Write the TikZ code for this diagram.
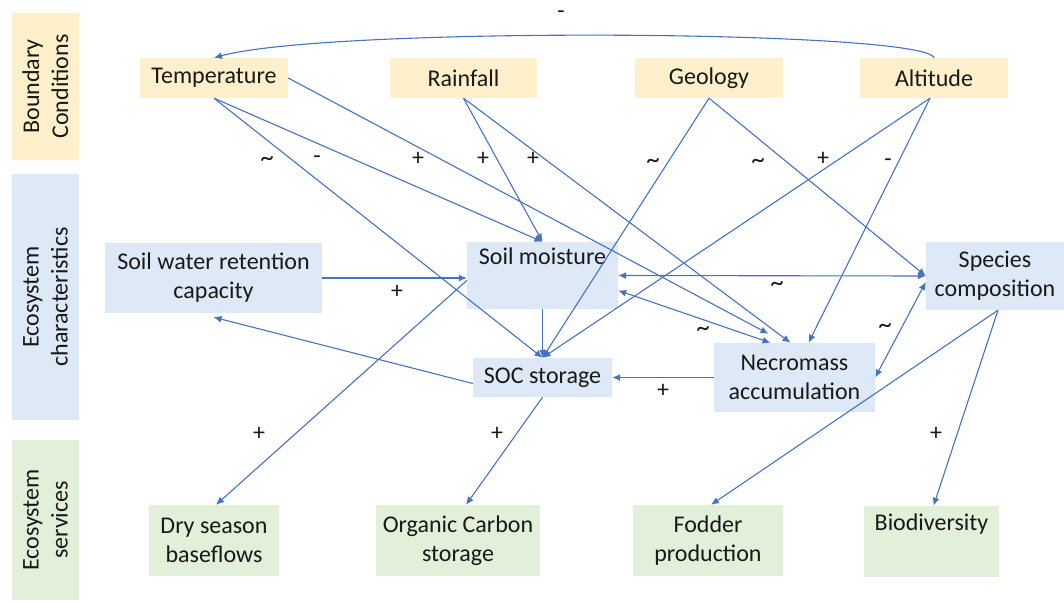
\documentclass[tikz,border=0pt]{standalone}
\usepackage{fontspec}
\setmainfont{Carlito}
\usetikzlibrary{arrows.meta,calc}
\definecolor{bcY}{HTML}{FDF0CB}
\definecolor{ecB}{HTML}{DDE9F6}
\definecolor{esG}{HTML}{E2EFD9}
\definecolor{lineB}{HTML}{4472C4}
\tikzset{
  box/.style={rectangle, inner sep=0pt, align=center, font=\fontsize{24}{29}\selectfont, text=black!90},
  ybox/.style={box, fill=bcY},
  bbox/.style={box, fill=ecB},
  gbox/.style={box, fill=esG},
  side/.style={box, rotate=90, minimum height=67pt},
  edge/.style={draw=lineB, line width=1.1pt, -{Latex[length=8pt,width=7pt]}},
  twoway/.style={draw=lineB, line width=1.1pt, {Latex[length=8pt,width=7pt]}-{Latex[length=8pt,width=7pt]}},
  lab/.style={font=\fontsize{24}{24}\selectfont, text=black!90, inner sep=0pt}
}
\newcommand{\tld}{{\fontsize{27}{27}\selectfont\raisebox{-0.32em}{\textasciitilde}}}
\begin{document}
\begin{tikzpicture}[x=1pt,y=-1pt]
\useasboundingbox (0,0) rectangle (1064,602);
% side labels
\node[side, fill=bcY, minimum width=147pt] (bcl) at (45.5,86.5) {Boundary\\Conditions};
\node[side, fill=ecB, minimum width=246pt] (ecl) at (45.5,297) {Ecosystem\\characteristics};
\node[side, fill=esG, minimum width=160pt] (esl) at (45.5,520) {Ecosystem\\services};
% boundary conditions
\node[ybox, minimum width=148pt, minimum height=40pt] (temp) at (214,78) {Temperature};
\node[ybox, minimum width=147pt, minimum height=40pt] (rain) at (463.5,78) {Rainfall};
\node[ybox, minimum width=148pt, minimum height=40pt] (geo) at (709,78) {Geology};
\node[ybox, minimum width=148pt, minimum height=40pt] (alt) at (934,78) {Altitude};
% ecosystem characteristics
\node[bbox, minimum width=217pt, minimum height=70pt] (swr) at (213.5,278) {Soil water retention\\capacity};
\node[bbox, minimum width=151pt, minimum height=67pt] (sm) at (542.5,275.5) {Soil moisture\\\strut};
\node[bbox, minimum width=138pt, minimum height=68pt] (spec) at (995,276) {Species\\composition};
\node[bbox, minimum width=139pt, minimum height=39pt] (soc) at (542.5,377.5) {SOC storage};
\node[bbox, minimum width=161pt, minimum height=69pt] (necro) at (794.5,377.5) {Necromass\\accumulation};
% ecosystem services
\node[gbox, minimum width=130pt, minimum height=71pt] (dry) at (214,540.5) {Dry season\\baseflows};
\node[gbox, minimum width=164pt, minimum height=71pt] (org) at (458,540.5) {Organic Carbon\\storage};
\node[gbox, minimum width=150pt, minimum height=71pt] (fod) at (708,540.5) {Fodder\\production};
\node[gbox, minimum width=135pt, minimum height=71pt] (bio) at (931.5,541.5) {Biodiversity\\\strut};
% arc altitude -> temperature
\draw[edge] (alt.north) .. controls (925,30) and (330,26) .. (temp.north);
% from temperature
\draw[edge] (temp.south) -- (sm.north);
\draw[edge] (temp.south) -- (soc.north);
\draw[edge] (temp.east) -- ([xshift=-26pt,yshift=9pt]necro.north);
% from rainfall
\draw[edge] (rain.south) -- (sm.north);
\draw[edge] (rain.south) -- ([xshift=-4pt]necro.north);
% from geology
\draw[edge] (geo.south) -- (soc.north);
\draw[edge] (geo.south) -- (spec.west);
% from altitude
\draw[edge] ([xshift=-4pt]alt.south) -- (soc.north);
\draw[edge] ([xshift=-4pt]alt.south) -- ([xshift=14pt]necro.north);
% ecosystem characteristics
\draw[edge] (swr.east) -- (swr.east -| sm.west);
\draw[edge] (sm.south) -- (soc.north);
\draw[twoway] (sm.east) -- (spec.west);
\draw[twoway] ([yshift=-15pt]sm.east) -- ([xshift=-24pt]necro.north);
\draw[twoway] (necro.east) -- ([yshift=-6pt]spec.west);
\draw[edge] (necro.west) -- (soc.east);
\draw[edge] ([yshift=-6pt]soc.west) -- ([yshift=-4pt]swr.south);
% to services
\draw[edge] ([yshift=-5pt]sm.west) -- ([xshift=2pt]dry.north);
\draw[edge] (soc.south) -- ([xshift=8pt]org.north);
\draw[edge] ([xshift=3pt]spec.south) -- ([xshift=3pt]fod.north);
\draw[edge] ([xshift=3pt]spec.south) -- ([xshift=2pt]bio.north);
% labels
\node[lab] (l1) at (561,15) {-};
\node[lab] (l2) at (267,162) {\tld};
\node[lab] (l3) at (317,160) {-};
\node[lab] (l4) at (418,159) {+};
\node[lab] (l5) at (483,159) {+};
\node[lab] (l6) at (533,159) {+};
\node[lab] (l7) at (653,164) {\tld};
\node[lab] (l8) at (758,164) {\tld};
\node[lab] (l9) at (823,159) {+};
\node[lab] (l10) at (888,163) {-};
\node[lab] (l11) at (397,292) {+};
\node[lab] (l12) at (777,287) {\tld};
\node[lab] (l13) at (703,332) {\tld};
\node[lab] (l14) at (885,329) {\tld};
\node[lab] (l15) at (663,391) {+};
\node[lab] (l16) at (259,434) {+};
\node[lab] (l17) at (497,434) {+};
\node[lab] (l18) at (936,434) {+};
\end{tikzpicture}
\end{document}
